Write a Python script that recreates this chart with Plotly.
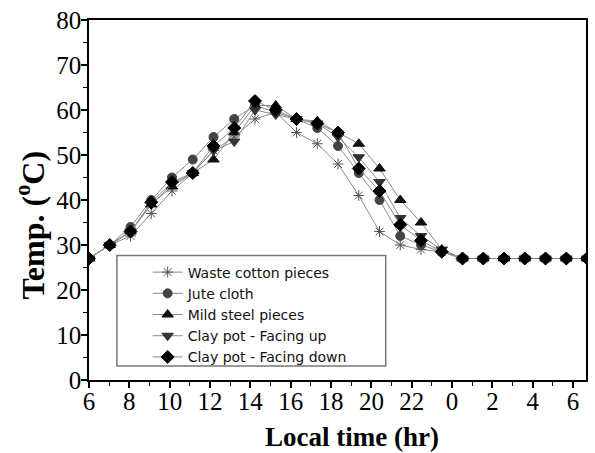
import plotly.graph_objects as go

# Hourly readings from 06:00 to 06:00 next day
hours = list(range(6, 31))
tick_vals = list(range(6, 31, 2))
tick_text = [str(h % 24) for h in tick_vals]

waste_cotton = [27, 30, 32, 37, 42, 46, 51, 54, 58, 59.5, 55, 52.5, 48, 41, 33, 30, 29, 28.5,
                27, 27, 27, 27, 27, 27, 27]
jute_cloth = [27, 30, 34, 40, 45, 49, 54, 58, 61, 59.5, 58, 56, 52, 46, 40, 32, 30, 28.5,
              27, 27, 27, 27, 27, 27, 27]
mild_steel = [27, 30, 33, 39, 43, 46, 49, 55, 61, 61, 58, 57.5, 55, 52.5, 47, 40, 35, 29,
              27, 27, 27, 27, 27, 27, 27]
clay_up = [27, 30, 33, 39, 43.5, 46, 51, 53, 60, 59, 58, 57, 54, 49.5, 44, 36, 32, 29,
           27, 27, 27, 27, 27, 27, 27]
clay_down = [27, 30, 33, 39.5, 44, 46, 52, 56, 62, 60, 58, 57, 55, 47, 42, 34.5, 31, 28.5,
             27, 27, 27, 27, 27, 27, 27]

series = [
    ("Waste cotton pieces", waste_cotton, "asterisk-open", "#555555", 9),
    ("Jute cloth", jute_cloth, "circle", "#444444", 9),
    ("Mild steel pieces", mild_steel, "triangle-up", "#111111", 10),
    ("Clay pot - Facing up", clay_up, "triangle-down", "#333333", 10),
    ("Clay pot - Facing down", clay_down, "diamond", "#000000", 10),
]

fig = go.Figure()
for name, vals, sym, col, size in series:
    fig.add_trace(go.Scatter(
        x=hours, y=vals, name=name, mode="lines+markers",
        line=dict(color="#8a8a8a", width=1),
        marker=dict(symbol=sym, size=size, color=col,
                    line=dict(color=col, width=1)),
        xaxis="x", yaxis="y",
    ))

# Invisible trace so the labelled time axis is drawn
fig.add_trace(go.Scatter(x=[6, 30], y=[0, 0], mode="markers", marker=dict(opacity=0),
                         showlegend=False, hoverinfo="skip", xaxis="x2", yaxis="y"))

serif = "Liberation Serif, Times New Roman, serif"
fig.update_layout(
    width=595, height=453,
    margin=dict(l=89, r=7, t=19, b=73),
    paper_bgcolor="white", plot_bgcolor="white",
    showlegend=True,
    legend=dict(
        x=0.118, y=0.343, xanchor="left", yanchor="top",
        bgcolor="rgba(0,0,0,0)", borderwidth=0,
        font=dict(family="DejaVu Sans, Arial, sans-serif", size=14, color="#111111"),
        tracegroupgap=0,
    ),
    shapes=[dict(
        type="rect", xref="paper", yref="paper",
        x0=0.0561, x1=0.597, y0=0.0388, y1=0.346,
        line=dict(color="#777777", width=1.5), fillcolor="white", layer="above",
    )],
    annotations=[
        dict(text="<b>Local time (hr)</b>", xref="paper", yref="paper",
             x=0.529, y=-0.158, xanchor="center", yanchor="middle", showarrow=False,
             font=dict(family=serif, size=27, color="black")),
        dict(text="<b>Temp. (<sup>o</sup>C)</b>", xref="paper", yref="paper",
             x=-0.118, y=0.43, xanchor="center", yanchor="middle", showarrow=False,
             textangle=-90, font=dict(family=serif, size=32, color="black")),
    ],
    xaxis=dict(
        range=[6, 29.95], visible=False, showgrid=False, zeroline=False,
    ),
    xaxis2=dict(
        overlaying="x", side="bottom", range=[6, 30.64],
        tickvals=tick_vals, ticktext=tick_text,
        ticks="outside", ticklen=6, tickwidth=1.5, tickcolor="black",
        minor=dict(dtick=1, ticks="outside", ticklen=4, tickcolor="black", tickwidth=1),
        showline=True, linecolor="black", linewidth=1.5, mirror=True,
        showgrid=False, zeroline=False, ticklabelstandoff=-8,
        tickfont=dict(family=serif, size=25, color="black"),
    ),
    yaxis=dict(
        range=[0, 80], dtick=10,
        ticks="outside", ticklen=6, tickwidth=1.5, tickcolor="black",
        minor=dict(dtick=5, ticks="outside", ticklen=4, tickcolor="black", tickwidth=1),
        showline=True, linecolor="black", linewidth=1.5, mirror=True,
        showgrid=False, zeroline=False, ticklabelstandoff=-5,
        tickfont=dict(family=serif, size=25, color="black"),
    ),
)

fig.write_html("out.html")
